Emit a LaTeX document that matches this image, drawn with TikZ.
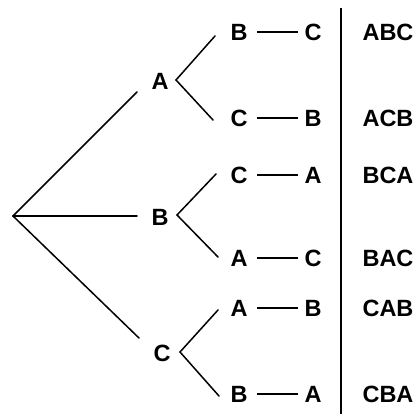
\documentclass[tikz,border=0pt]{standalone}
\usepackage{fontspec}
\setmainfont{Liberation Sans}
\begin{document}
\begin{tikzpicture}[x=1pt,y=-1pt,
  lt/.style={font=\fontsize{23.5}{25}\selectfont\bfseries, inner sep=0pt, anchor=center},
  ln/.style={line width=1.5pt, line cap=round}]
\useasboundingbox (0,0) rectangle (417,414);
% first level
\coordinate (root) at (13,216);
\node[lt] (A) at (160,81) {A};
\node[lt] (B) at (160,217) {B};
\node[lt] (C) at (162,353) {C};
\coordinate (eA) at (137,92);
\coordinate (eB) at (137,216);
\coordinate (eC) at (139,338);
\draw[ln] (root) -- (eA);
\draw[ln] (root) -- (eB);
\draw[ln] (root) -- (eC);
% branch starts
\coordinate (sA) at (176,80);
\coordinate (sB) at (177,215);
\coordinate (sC) at (180,352);
% second-level nodes
\foreach \n/\l/\r/\y/\w in {1/B/C/32/ABC, 2/C/B/118/ACB, 3/C/A/175/BCA, 4/A/C/258/BAC, 5/A/B/308/CAB, 6/B/A/394/CBA}{
  \node[lt] (L\n) at (239,\y) {\l};
  \node[lt] (R\n) at (313,\y) {\r};
  \node[lt] (W\n) at (388,\y) {\w};
  \draw[ln, line cap=butt] ([xshift=18pt]L\n.center) -- ([xshift=-15pt]R\n.center);
}
\coordinate (t1) at (215,36);
\coordinate (t2) at (213,120);
\coordinate (t3) at (216,174);
\coordinate (t4) at (218,257);
\coordinate (t5) at (218,310);
\coordinate (t6) at (219,396);
\draw[ln] (t1) -- (sA) -- (t2);
\draw[ln] (t3) -- (sB) -- (t4);
\draw[ln] (t5) -- (sC) -- (t6);
% vertical divider
\coordinate (vtop) at (341,8);
\coordinate (vbot) at (341,414);
\draw[ln, line cap=butt] (vtop) -- (vbot);
\end{tikzpicture}
\end{document}
